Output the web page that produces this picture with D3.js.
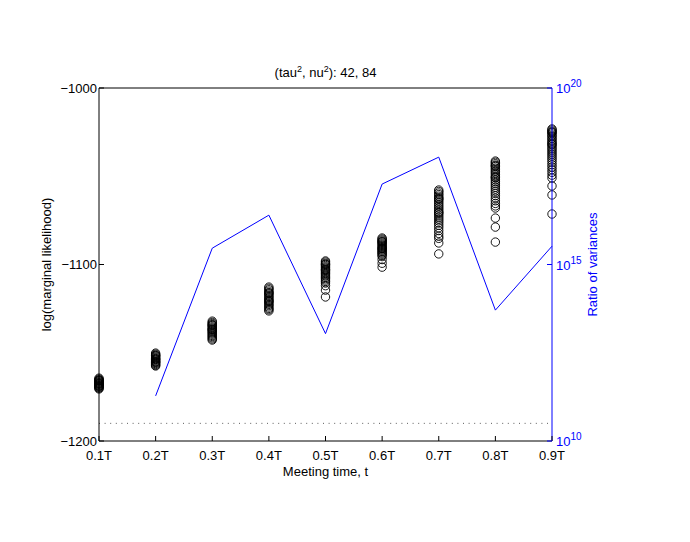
<!DOCTYPE html>
<html>
<head>
<meta charset="utf-8">
<script src="https://cdn.jsdelivr.net/npm/d3@7"></script>
<style>
  body { margin: 0; background: #fff; }
  text { font-family: "Liberation Sans", Arial, sans-serif; font-size: 13px; }
</style>
</head>
<body>
<svg width="690" height="542"></svg>
<script>
// meeting times on the x axis
let times = [0.1, 0.2, 0.3, 0.4, 0.5, 0.6, 0.7, 0.8, 0.9];
let timeLabels = ["0.1T", "0.2T", "0.3T", "0.4T", "0.5T", "0.6T", "0.7T", "0.8T", "0.9T"];

// log marginal likelihood draws at each meeting time
let lml01 = [-1164.4, -1164.9, -1165.3, -1165.8, -1166.1, -1166.5, -1166.9, -1167.2, -1167.6, -1167.9, -1168.2, -1168.6, -1169.0, -1169.3, -1169.7, -1170.1, -1170.5, -1165.6, -1167.4, -1168.8];
let lml02 = [-1150.2, -1150.8, -1151.3, -1151.9, -1152.4, -1152.9, -1153.3, -1153.8, -1154.2, -1154.7, -1155.1, -1155.6, -1156.1, -1156.6, -1157.1, -1157.5, -1151.6, -1153.6, -1155.3];
let lml03 = [-1132.1, -1132.8, -1133.4, -1134.0, -1134.6, -1135.3, -1135.9, -1136.5, -1137.1, -1137.7, -1138.3, -1138.9, -1139.5, -1140.2, -1140.8, -1141.5, -1142.2, -1142.8, -1134.3, -1136.8];
let lml04 = [-1112.8, -1113.5, -1114.3, -1115.1, -1115.9, -1116.6, -1117.4, -1118.1, -1118.9, -1119.6, -1120.3, -1121.1, -1121.8, -1122.6, -1123.3, -1124.1, -1124.9, -1125.6, -1126.3, -1116.2, -1120.8];
let lml05 = [-1098.0, -1098.6, -1099.3, -1100.0, -1100.6, -1101.3, -1101.9, -1102.6, -1103.3, -1103.9, -1104.6, -1105.2, -1105.9, -1106.6, -1107.3, -1108.0, -1108.8, -1109.6, -1110.5, -1112.0, -1114.5, -1118.4, -1099.8, -1103.0];
let lml06 = [-1085.0, -1085.6, -1086.2, -1086.8, -1087.4, -1088.0, -1088.6, -1089.2, -1089.8, -1090.4, -1091.0, -1091.6, -1092.2, -1092.8, -1093.4, -1094.0, -1094.7, -1095.5, -1097.2, -1099.3, -1101.5, -1087.1, -1090.9];
let lml07 = [-1057.8, -1058.6, -1059.5, -1060.4, -1061.3, -1062.2, -1063.1, -1064.0, -1065.0, -1066.0, -1067.0, -1068.0, -1069.0, -1070.0, -1071.0, -1072.0, -1073.1, -1074.2, -1075.3, -1076.5, -1077.8, -1079.2, -1080.8, -1082.4, -1084.0, -1085.2, -1087.8, -1094.0, -1062.7, -1070.6];
let lml08 = [-1041.4, -1042.1, -1042.9, -1043.7, -1044.5, -1045.4, -1046.3, -1047.2, -1048.1, -1049.0, -1050.0, -1051.0, -1052.0, -1053.0, -1054.0, -1055.1, -1056.2, -1057.3, -1058.5, -1059.7, -1061.0, -1062.4, -1063.9, -1065.4, -1066.8, -1068.0, -1073.7, -1078.8, -1087.3, -1044.1, -1050.6];
let lml09 = [-1023.2, -1023.8, -1024.5, -1025.2, -1026.0, -1026.8, -1027.6, -1028.5, -1029.4, -1030.3, -1031.2, -1032.2, -1033.2, -1034.2, -1035.2, -1036.3, -1037.4, -1038.5, -1039.7, -1040.9, -1042.2, -1043.5, -1044.9, -1046.3, -1047.8, -1049.4, -1051.0, -1055.5, -1060.6, -1071.4, -1025.0, -1031.8];
let lmlDraws = [lml01, lml02, lml03, lml04, lml05, lml06, lml07, lml08, lml09];

// ratio of variances (blue line, right log axis), from 0.2T to 0.9T
let ratioTimes = [0.2, 0.3, 0.4, 0.5, 0.6, 0.7, 0.8, 0.9];
let ratioValues = [1.9e11, 2.9e15, 2.5e16, 1.1e13, 1.9e17, 1.1e18, 5.1e13, 3.3e15];

// ticks
let leftTicks = [-1000, -1100, -1200];
let rightTicks = [1e10, 1e15, 1e20];
let refLevel = -1190; // dotted reference line

let svg = d3.select("svg");
let pLeft = 99, pRight = 552, pTop = 88, pBottom = 441;

let x = d3.scaleLinear().domain([0.1, 0.9]).range([pLeft, pRight]);
let y = d3.scaleLinear().domain([-1200, -1000]).range([pBottom, pTop]);
let yr = d3.scaleLog().domain([1e10, 1e20]).range([pBottom, pTop]);

// dotted line
svg.append("line")
    .attr("x1", x(0.1)).attr("x2", x(0.9))
    .attr("y1", y(refLevel)).attr("y2", y(refLevel))
    .attr("stroke", "#333").attr("stroke-width", 0.8)
    .attr("stroke-dasharray", "1,4.6");

// circles
let pts = [];
lmlDraws.forEach(function (arr, i) {
    arr.forEach(function (v) { pts.push({t: times[i], v: v}); });
});
svg.append("g")
    .selectAll("circle")
    .data(pts)
    .enter()
    .append("circle")
    .attr("cx", d => x(d.t))
    .attr("cy", d => y(d.v))
    .attr("r", 4.2)
    .attr("fill", "none")
    .attr("stroke", "#000")
    .attr("stroke-width", 0.9);

// blue line
let line = d3.line()
    .x((d, i) => x(ratioTimes[i]))
    .y(d => yr(d));
svg.append("path")
    .datum(ratioValues)
    .attr("d", line)
    .attr("fill", "none")
    .attr("stroke", "#0000ff")
    .attr("stroke-width", 1);

// box: top, bottom, left, right (blue)
svg.append("line").attr("x1", pLeft).attr("x2", pRight).attr("y1", pTop).attr("y2", pTop).attr("stroke", "#000");
svg.append("line").attr("x1", pLeft).attr("x2", pRight).attr("y1", pBottom).attr("y2", pBottom).attr("stroke", "#000");
svg.append("line").attr("x1", pLeft).attr("x2", pLeft).attr("y1", pTop).attr("y2", pBottom).attr("stroke", "#000");
svg.append("line").attr("x1", pRight).attr("x2", pRight).attr("y1", pTop).attr("y2", pBottom).attr("stroke", "#0000ff");

// x ticks (inward)
let xt = svg.append("g");
times.forEach(function (t, i) {
    xt.append("line").attr("x1", x(t)).attr("x2", x(t))
        .attr("y1", pBottom).attr("y2", pBottom - 5).attr("stroke", "#000");
    xt.append("text").attr("x", x(t)).attr("y", pBottom + 19)
        .attr("text-anchor", "middle").text(timeLabels[i]);
});

// left ticks
leftTicks.forEach(function (v) {
    svg.append("line").attr("x1", pLeft).attr("x2", pLeft + 5)
        .attr("y1", y(v)).attr("y2", y(v)).attr("stroke", "#000");
    svg.append("text").attr("x", pLeft - 2).attr("y", y(v)).attr("dy", "0.35em")
        .attr("text-anchor", "end").text(String(v).replace("-", "\u2212"));
});

// right ticks (log)
rightTicks.forEach(function (v) {
    svg.append("line").attr("x1", pRight).attr("x2", pRight - 5)
        .attr("y1", yr(v)).attr("y2", yr(v)).attr("stroke", "#0000ff");
    let tx = svg.append("text").attr("x", pRight + 4).attr("y", yr(v) + 5)
        .attr("fill", "#0000ff");
    tx.append("tspan").text("10");
    tx.append("tspan").attr("dy", -6).attr("font-size", "10px").text(Math.round(Math.log10(v)));
});

// title
let title = svg.append("text").attr("x", (pLeft + pRight) / 2).attr("y", 77)
    .attr("text-anchor", "middle");
title.append("tspan").text("(tau");
title.append("tspan").attr("dy", -5).attr("font-size", "9px").text("2");
title.append("tspan").attr("dy", 5).text(", nu");
title.append("tspan").attr("dy", -5).attr("font-size", "9px").text("2");
title.append("tspan").attr("dy", 5).text("): 42, 84");

// axis labels
svg.append("text").attr("x", (pLeft + pRight) / 2).attr("y", 476)
    .attr("text-anchor", "middle").text("Meeting time, t");
svg.append("text")
    .attr("transform", "translate(51," + ((pTop + pBottom) / 2) + ") rotate(-90)")
    .attr("text-anchor", "middle").text("log(marginal likelihood)");
svg.append("text")
    .attr("transform", "translate(597," + ((pTop + pBottom) / 2) + ") rotate(-90)")
    .attr("text-anchor", "middle").attr("fill", "#0000ff").text("Ratio of variances");
</script>
</body>
</html>
